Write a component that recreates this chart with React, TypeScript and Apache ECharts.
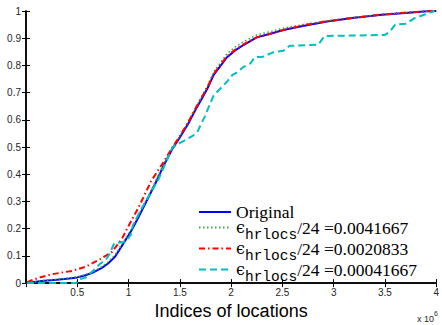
import React, { useEffect, useRef } from "react";
import * as echarts from "echarts";

// x values in units of 1e6
const origX = [0.01, 0.15, 0.3, 0.42, 0.5, 0.58, 0.66, 0.74, 0.8, 0.87, 0.95, 1.03, 1.1, 1.16, 1.26, 1.34, 1.43, 1.5, 1.58, 1.65, 1.71, 1.77, 1.83, 1.9, 1.96, 2.04, 2.12, 2.25, 2.4, 2.51, 2.7, 2.95, 3.2, 3.47, 3.7, 3.91, 4.0];
const origY = [0, 0.008, 0.012, 0.017, 0.021, 0.029, 0.04, 0.056, 0.072, 0.098, 0.146, 0.194, 0.245, 0.29, 0.365, 0.43, 0.495, 0.535, 0.585, 0.635, 0.675, 0.716, 0.765, 0.8, 0.83, 0.855, 0.875, 0.903, 0.918, 0.93, 0.945, 0.962, 0.975, 0.986, 0.993, 0.999, 1.0];

const e1X = [0.01, 0.15, 0.3, 0.42, 0.5, 0.58, 0.66, 0.74, 0.8, 0.87, 0.95, 1.03, 1.1, 1.16, 1.26, 1.34, 1.43, 1.5, 1.58, 1.65, 1.71, 1.77, 1.83, 1.9, 1.96, 2.04, 2.12, 2.25, 2.4, 2.51, 2.7, 2.95, 3.2, 3.47, 3.7, 3.91, 4.0];
const e1Y = [0, 0.009, 0.014, 0.019, 0.023, 0.031, 0.043, 0.06, 0.077, 0.104, 0.152, 0.2, 0.252, 0.296, 0.372, 0.436, 0.5, 0.54, 0.592, 0.642, 0.684, 0.726, 0.776, 0.812, 0.843, 0.868, 0.887, 0.912, 0.926, 0.937, 0.95, 0.965, 0.977, 0.987, 0.994, 0.999, 1.0];

const e2X = [0.01, 0.05, 0.13, 0.26, 0.45, 0.58, 0.71, 0.84, 0.935, 1.0, 1.1, 1.22, 1.35, 1.43, 1.5, 1.58, 1.65, 1.71, 1.77, 1.83, 1.9, 1.96, 2.04, 2.12, 2.25, 2.4, 2.51, 2.7, 2.95, 3.2, 3.47, 3.7, 3.91, 4.0];
const e2Y = [0.003, 0.01, 0.02, 0.033, 0.045, 0.06, 0.085, 0.115, 0.163, 0.21, 0.28, 0.375, 0.45, 0.5, 0.54, 0.59, 0.64, 0.68, 0.72, 0.768, 0.805, 0.833, 0.858, 0.877, 0.903, 0.918, 0.93, 0.947, 0.963, 0.975, 0.987, 0.994, 0.999, 1.0];

const e3X = [0.01, 0.49, 0.52, 0.58, 0.65, 0.72, 0.78, 0.81, 0.86, 0.97, 1.02, 1.04, 1.1, 1.16, 1.29, 1.43, 1.5, 1.545, 1.62, 1.67, 1.74, 1.83, 1.96, 2.01, 2.06, 2.12, 2.19, 2.23, 2.31, 2.41, 2.51, 2.57, 2.85, 2.91, 3.5, 3.55, 3.6, 3.7, 3.79, 3.88, 3.98];
const e3Y = [0, 0, 0.014, 0.02, 0.044, 0.07, 0.086, 0.104, 0.146, 0.152, 0.176, 0.21, 0.255, 0.296, 0.38, 0.5, 0.515, 0.524, 0.54, 0.555, 0.61, 0.69, 0.74, 0.764, 0.775, 0.794, 0.808, 0.83, 0.832, 0.848, 0.854, 0.872, 0.876, 0.908, 0.912, 0.925, 0.95, 0.953, 0.974, 0.986, 1.0];

const epsValues = ["0.0041667", "0.0020833", "0.00041667"];
const seriesNames = ["Original", ...epsValues.map((v) => `ϵhrlocs/24 =${v}`)];
const xTicks = { min: 0, max: 4, interval: 0.5 };
const yTicks = { min: 0, max: 1, interval: 0.1 };

const zip = (xs: number[], ys: number[]) => xs.map((x, i) => [x, ys[i]]);

export default function App() {
  const ref = useRef<HTMLDivElement>(null);
  useEffect(() => {
    document.body.style.margin = "0";
    const chart = echarts.init(ref.current!, null, { renderer: "svg" });
    const axisLine = { show: true, lineStyle: { color: "#000", width: 1.5 } };
    const tick = { show: true, inside: true, length: 4, lineStyle: { color: "#000", width: 1 } };
    const labelStyle = { fontFamily: "Liberation Sans", fontSize: 10, color: "#262626" };
    const richNum = { fontFamily: "Liberation Serif", fontSize: 17.5, color: "#000", lineHeight: 19 };
    chart.setOption({
      animation: false,
      backgroundColor: "#fff",
      grid: { left: 26, right: 2, top: 11, bottom: 36, containLabel: false },
      xAxis: [
        {
          type: "value", ...xTicks, position: "bottom",
          axisLine, axisTick: tick, splitLine: { show: false },
          axisLabel: { ...labelStyle, margin: 4, formatter: (v: number) => (v === 0 ? "" : String(v)) },
          name: "Indices of locations", nameLocation: "middle", nameGap: 15,
          nameTextStyle: { fontFamily: "Liberation Sans", fontSize: 18, color: "#000" },
        },
        {
          type: "value", ...xTicks, position: "top",
          axisLine, axisTick: tick, splitLine: { show: false }, axisLabel: { show: false },
        },
      ],
      yAxis: [
        {
          type: "value", ...yTicks, position: "left",
          axisLine, axisTick: tick, splitLine: { show: false },
          axisLabel: { ...labelStyle, margin: 5, formatter: (v: number) => String(+v.toFixed(1)) },
        },
        {
          type: "value", ...yTicks, position: "right",
          axisLine, axisTick: tick, splitLine: { show: false }, axisLabel: { show: false },
        },
      ],
      legend: {
        data: seriesNames,
        orient: "vertical",
        left: 198,
        top: 203,
        padding: 0,
        itemWidth: 32,
        itemHeight: 12,
        itemGap: -8,
        itemStyle: { color: "rgba(0,0,0,0)", borderColor: "rgba(0,0,0,0)", borderWidth: 0, opacity: 0 },
        formatter: (name: string) => {
          if (name === "Original") return "{n|Original}";
          const val = name.split("=")[1];
          return `{e|ϵ}{s|hrlocs}{n|/24 =${val}}`;
        },
        textStyle: {
          rich: {
            n: richNum,
            e: { fontFamily: "DejaVu Serif", fontSize: 16, color: "#000", lineHeight: 19 },
            s: { fontFamily: "Liberation Mono", fontSize: 14.5, color: "#000", padding: [14, 0, 0, 0], lineHeight: 3 },
          },
        },
      },
      graphic: [
        {
          type: "text", x: 417, y: 310,
          style: {
            text: "{a|x 10}{b|6}",
            rich: {
              a: { fontFamily: "Liberation Sans", fontSize: 9, fill: "#262626", padding: [4, 0, 0, 0] },
              b: { fontFamily: "Liberation Sans", fontSize: 7, fill: "#262626", verticalAlign: "top" },
            },
          },
        },
      ],
      series: [
        { name: seriesNames[0], type: "line", symbol: "none", data: zip(origX, origY), lineStyle: { color: "#0000ff", width: 2 }, itemStyle: { color: "#0000ff" } },
        { name: seriesNames[1], type: "line", symbol: "none", data: zip(e1X, e1Y), lineStyle: { color: "#3f9f3f", width: 1.5, type: [1.5, 2.5] }, itemStyle: { color: "#3f9f3f" } },
        { name: seriesNames[2], type: "line", symbol: "none", data: zip(e2X, e2Y), lineStyle: { color: "#ff0000", width: 2, type: [6, 3, 1.5, 3] }, itemStyle: { color: "#ff0000" } },
        { name: seriesNames[3], type: "line", symbol: "none", data: zip(e3X, e3Y), lineStyle: { color: "#00bfbf", width: 2, type: [7, 4] }, itemStyle: { color: "#00bfbf" } },
      ],
    });
    return () => chart.dispose();
  }, []);
  return <div ref={ref} style={{ width: 442, height: 325 }} />;
}
